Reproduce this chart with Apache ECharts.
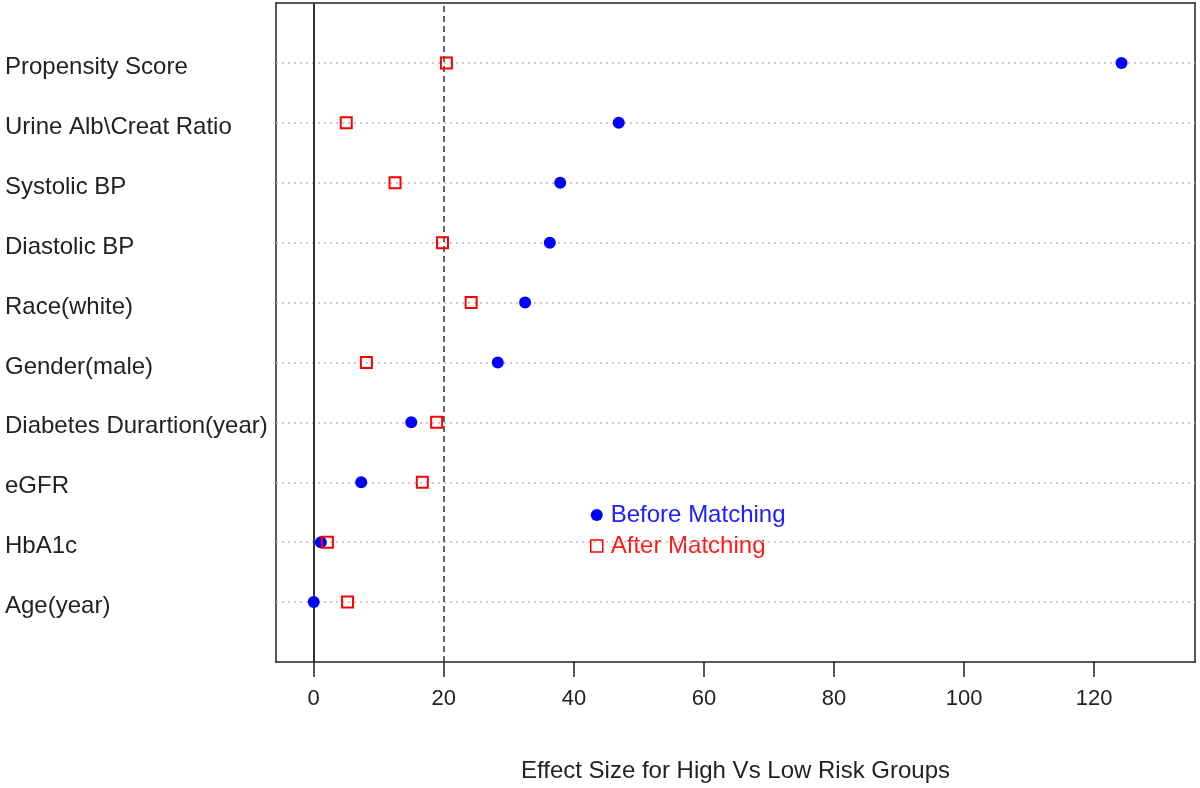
<!DOCTYPE html>
<html>
<head>
<meta charset="utf-8">
<script src="https://cdn.jsdelivr.net/npm/echarts@6/dist/echarts.min.js"></script>
<style>html,body{margin:0;padding:0;background:#fff}#c{width:1200px;height:788px}</style>
</head>
<body>
<div id="c"></div>
<script>
// Rows from bottom to top
var categories = ['Age(year)', 'HbA1c', 'eGFR', 'Diabetes Durartion(year)', 'Gender(male)', 'Race(white)', 'Diastolic BP', 'Systolic BP', 'Urine Alb\\Creat Ratio', 'Propensity Score'];
var beforeMatching = [0.0, 1.1, 7.3, 15.0, 28.3, 32.5, 36.3, 37.9, 46.9, 124.2];
var afterMatching = [5.2, 2.1, 16.7, 18.9, 8.1, 24.2, 19.8, 12.5, 5.0, 20.4];
var xTicks = [0, 20, 40, 60, 80, 100, 120];
var referenceLines = [0, 20];

var chart = echarts.init(document.getElementById('c'), null, {renderer: 'canvas'});
var font = 'Liberation Sans, Arial, sans-serif';
var rowLines = categories.map(function (c, i) { return {yAxis: i + 1}; });

chart.setOption({
  animation: false,
  backgroundColor: '#fff',
  grid: {left: 276, right: 5, top: 3, bottom: 126, show: false},
  xAxis: [{
    type: 'value', min: -5.8, max: 135.5,
    position: 'bottom',
    axisLine: {show: true, onZero: false, lineStyle: {color: '#222', width: 1.5}},
    axisTick: {show: true, length: 15, lineStyle: {color: '#222', width: 1.5},
      customValues: xTicks},
    axisLabel: {show: true, margin: 26, fontSize: 22, color: '#222', fontFamily: font,
      customValues: xTicks},
    splitLine: {show: false},
    name: 'Effect Size for High Vs Low Risk Groups',
    nameLocation: 'middle', nameGap: 97,
    nameTextStyle: {fontSize: 24, color: '#222', fontFamily: font}
  }, {
    type: 'value', min: -5.8, max: 135.5, position: 'top',
    axisLine: {show: true, onZero: false, lineStyle: {color: '#222', width: 1.5}},
    axisTick: {show: false}, axisLabel: {show: false}, splitLine: {show: false}
  }],
  yAxis: [{
    type: 'value', min: 0, max: 11, interval: 1, position: 'left',
    axisLine: {show: true, onZero: false, lineStyle: {color: '#222', width: 1.5}},
    axisTick: {show: false},
    splitLine: {show: false},
    axisLabel: {
      show: true, align: 'left', margin: 271, fontSize: 24, color: '#222', fontFamily: font,
      formatter: function (v) { return (v >= 1 && v <= categories.length) ? '{a|' + categories[v - 1] + '}' : ''; },
      rich: {a: {fontSize: 24, color: '#222', fontFamily: font, padding: [9, 0, 0, 0]}}
    }
  }, {
    type: 'value', min: 0, max: 11, interval: 1, position: 'right',
    axisLine: {show: true, onZero: false, lineStyle: {color: '#222', width: 1.5}},
    axisTick: {show: false}, axisLabel: {show: false}, splitLine: {show: false}
  }],
  legend: {
    orient: 'vertical', left: 585, top: 498, itemGap: 7,
    itemWidth: 12, itemHeight: 12,
    data: [
      {name: 'Before Matching', icon: 'circle', itemStyle: {color: 'blue', borderWidth: 0},
        textStyle: {color: '#2020ff', fontSize: 24, fontFamily: font, padding: [0, 0, 0, 3]}},
      {name: 'After Matching', icon: 'rect', itemStyle: {color: '#fff', borderColor: 'red', borderWidth: 1.5},
        textStyle: {color: '#ff1a1a', fontSize: 24, fontFamily: font, padding: [0, 0, 0, 3]}}
    ]
  },
  series: [{
    name: 'rows', type: 'scatter', data: [], silent: true,
    markLine: {
      silent: true, symbol: 'none', label: {show: false},
      lineStyle: {color: '#bbb', type: [2, 4], width: 1.5},
      data: rowLines
    }
  }, {
    name: 'refs', type: 'scatter', data: [], silent: true,
    markLine: {
      silent: true, symbol: 'none', label: {show: false},
      data: [
        {xAxis: referenceLines[0], lineStyle: {color: '#333', type: 'solid', width: 2}},
        {xAxis: referenceLines[1], lineStyle: {color: '#333', type: [6, 4], width: 1.5}}
      ]
    }
  }, {
    name: 'Before Matching', type: 'scatter', symbol: 'circle', symbolSize: 12,
    itemStyle: {color: 'blue', opacity: 1},
    data: beforeMatching.map(function (v, i) { return [v, i + 1]; }),
    z: 5
  }, {
    name: 'After Matching', type: 'scatter', symbol: 'rect', symbolSize: 11,
    itemStyle: {color: 'rgba(255,255,255,0)', borderColor: 'red', borderWidth: 2, opacity: 1},
    data: afterMatching.map(function (v, i) { return [v, i + 1]; }),
    z: 6
  }]
});
</script>
</body>
</html>
